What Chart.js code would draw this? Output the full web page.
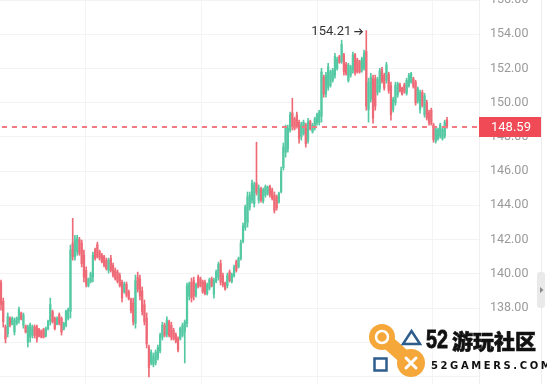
<!DOCTYPE html>
<html>
<head>
<meta charset="utf-8">
<script src="https://cdn.jsdelivr.net/npm/chart.js@4.4.1/dist/chart.umd.min.js"></script>
<style>
  html, body { margin: 0; padding: 0; background: #fff; }
  #wrap { width: 547px; height: 384px; position: relative; }
</style>
</head>
<body>
<div id="wrap"><canvas id="chart" width="547" height="384"></canvas></div>
<script>
// candle data
const openPrices = [
  139.5, 138.4, 136.9, 136.5, 137.4, 137.05, 136.6, 137.1, 137.3, 137.7,
  137.0, 136.95, 136.0, 136.3, 136.4, 136.9, 136.9, 136.75, 136.65, 136.75,
  136.35, 136.8, 137.2, 137.8, 137.4, 137.05, 137.6, 137.4, 136.75, 137.0,
  137.4, 137.8, 141.8, 141.0, 141.3, 142.0, 141.8, 141.1, 140.2, 139.3,
  139.55, 139.8, 141.4, 141.7, 141.3, 141.1, 141.0, 140.8,
  140.2, 140.9, 140.5, 140.2, 140.1, 139.9, 139.5, 138.95, 139.4,
  138.95, 138.5, 138.3, 137.1, 139.8, 139.7, 139.0, 138.2, 137.4, 135.7,
  134.8, 134.7, 134.8, 135.1, 135.5, 136.3, 137.0, 136.45, 137.2, 137.0,
  136.7, 136.45, 136.2, 136.2, 136.4, 136.6, 137.1, 138.7, 139.5, 139.6,
  138.75, 139.8, 139.7, 139.55, 139.5, 138.85, 139.15, 139.7, 138.8, 139.55,
  139.8, 140.6, 139.9, 139.45, 139.3, 140.1, 139.55, 139.9, 140.7, 140.4,
  140.9, 141.9, 142.7, 143.0, 143.9, 144.3, 144.1, 145.3, 144.3, 144.95,
  144.25, 144.6, 144.7, 145.1, 144.9, 144.6, 144.5, 144.2, 144.8, 146.2,
  147.1, 147.3, 148.4, 149.4, 149.05, 149.3, 148.85, 148.0, 148.2, 148.7,
  147.8, 148.9, 148.3, 148.5, 148.8, 148.85, 149.2, 151.5, 150.5, 150.9,
  151.0, 151.3, 151.6, 152.0, 152.7, 152.4, 152.8, 152.25, 151.3, 151.6,
  151.9, 152.8, 152.5, 152.4, 151.9, 152.0, 153.0, 149.6, 150.2, 151.4,
  151.4, 150.6, 150.8, 151.95, 151.6, 151.3, 151.65, 151.0, 149.6, 150.0,
  150.45, 151.05, 150.85, 151.05, 150.55, 151.0, 151.2, 151.4, 151.2, 150.1,
  149.6, 150.6, 149.3, 150.0, 149.45, 149.55, 148.7, 147.75, 147.9, 148.05,
  147.9, 148.05, 149.0
];
const highPrices = [
  139.63, 138.58, 137.01, 137.71, 137.48, 137.48, 137.42, 137.48, 138.06, 137.77,
  137.71, 137.01, 137.01, 137.12, 137.01, 137.01, 137.01, 136.82, 136.72, 136.82,
  136.89, 137.30, 138.58, 137.88, 137.48, 137.48, 137.71, 137.48, 137.17, 137.88,
  138.00, 141.68, 143.24, 142.25, 142.25, 142.13, 141.97, 141.38, 140.40, 139.75,
  140.10, 141.27, 141.50, 141.85, 141.38, 141.20, 141.08, 140.92,
  140.92, 141.08, 140.63, 140.34, 140.22, 140.04, 139.63, 139.52, 139.52,
  139.05, 138.58, 138.58, 139.93, 140.10, 139.93, 139.23, 138.47, 137.71, 135.84,
  135.55, 135.37, 135.55, 135.84, 136.54, 137.17, 137.12, 137.48, 137.30, 137.17,
  136.82, 136.54, 136.31, 136.89, 137.12, 137.30, 139.46, 139.52, 139.75, 139.81,
  139.46, 139.93, 139.81, 139.63, 139.63, 139.46, 139.75, 139.81, 139.75, 140.22,
  140.68, 140.80, 140.04, 139.52, 140.04, 140.22, 140.04, 140.51, 140.80, 140.98,
  141.97, 142.96, 144.02, 144.78, 144.78, 145.48, 145.36, 147.69, 145.19, 145.07,
  145.01, 145.19, 145.13, 145.19, 145.01, 144.78, 144.60, 144.78, 146.23, 147.64,
  148.69, 148.69, 149.45, 150.26, 149.15, 149.45, 148.98, 148.86, 148.98, 148.80,
  149.09, 148.98, 148.80, 149.15, 149.39, 149.56, 152.01, 151.61, 151.78, 152.30,
  151.90, 152.01, 152.89, 152.66, 152.77, 153.65, 152.89, 152.36, 152.30, 152.19,
  152.95, 152.89, 152.60, 152.48, 152.66, 153.07, 154.21, 151.43, 151.72, 151.61,
  151.61, 151.49, 152.01, 152.07, 151.72, 152.36, 151.78, 151.20, 150.32, 151.20,
  151.20, 151.14, 150.91, 151.14, 151.43, 151.72, 151.78, 151.49, 151.31, 150.91,
  150.73, 150.73, 150.55, 150.15, 149.56, 149.68, 148.80, 148.57, 148.51, 148.80,
  148.57, 148.98, 149.15
];
const lowPrices = [
  137.88, 136.89, 135.96, 136.31, 136.89, 137.01, 136.42, 137.01, 137.12, 137.30,
  136.82, 136.54, 135.72, 136.01, 136.25, 136.25, 136.01, 136.31, 136.25, 136.25,
  136.31, 136.72, 137.01, 137.12, 136.72, 137.01, 137.01, 136.42, 136.72, 136.89,
  137.30, 137.42, 140.80, 140.80, 141.08, 141.08, 140.40, 139.52, 139.23, 139.23,
  139.46, 139.52, 140.80, 140.92, 140.80, 140.63, 140.40, 140.22,
  140.04, 140.10, 139.81, 139.63, 139.46, 139.23, 138.35, 138.86, 138.64,
  138.47, 137.71, 137.01, 136.82, 138.93, 138.47, 137.59, 137.01, 135.67, 133.97,
  134.67, 134.56, 134.67, 134.97, 135.37, 136.13, 136.31, 136.31, 136.31, 136.13,
  136.13, 135.96, 135.43, 136.13, 136.31, 134.79, 136.89, 138.47, 138.35, 138.47,
  138.64, 139.17, 139.23, 138.86, 138.76, 138.76, 139.05, 139.23, 138.58, 139.46,
  139.63, 139.34, 139.23, 139.05, 139.17, 139.52, 139.46, 139.81, 140.10, 140.34,
  140.80, 141.80, 142.54, 142.73, 143.72, 144.13, 143.90, 144.60, 144.13, 144.19,
  144.13, 144.48, 144.60, 144.48, 144.31, 143.55, 143.72, 144.13, 144.72, 146.06,
  146.82, 147.11, 148.28, 148.40, 148.40, 148.51, 147.64, 147.81, 148.10, 147.40,
  147.64, 148.40, 148.22, 148.40, 148.69, 148.69, 148.86, 150.32, 150.32, 150.73,
  150.91, 151.20, 151.43, 151.90, 152.30, 152.30, 151.61, 151.61, 151.20, 151.49,
  151.72, 151.61, 151.72, 151.72, 151.78, 151.90, 149.56, 148.86, 150.03, 148.80,
  149.56, 150.44, 150.61, 151.14, 150.73, 151.14, 150.55, 148.98, 149.45, 149.85,
  150.32, 150.61, 150.44, 150.55, 150.44, 150.91, 151.14, 150.85, 149.85, 149.97,
  149.39, 149.74, 149.15, 148.98, 148.69, 148.69, 147.69, 147.64, 147.81, 147.93,
  147.81, 147.93, 148.51
];
const closePrices = [
  138.2, 137.2, 136.2, 137.5, 137.0, 137.4, 137.3, 137.4, 137.9, 137.35,
  137.6, 136.6, 136.9, 137.0, 136.9, 136.4, 136.2, 136.35, 136.3, 136.3,
  136.8, 137.2, 138.2, 137.2, 136.8, 137.4, 137.1, 136.6, 137.1, 137.8,
  137.9, 141.4, 141.0, 142.0, 142.1, 141.2, 140.6, 139.8, 139.4, 139.7,
  140.0, 141.1, 140.9, 141.0, 140.9, 140.7, 140.5, 140.3,
  140.8, 140.2, 139.9, 139.7, 139.55, 139.3, 138.6, 139.4, 138.75,
  138.55, 137.85, 137.2, 139.6, 139.1, 138.7, 137.8, 137.2, 135.9, 134.5,
  135.4, 135.2, 135.4, 135.7, 136.4, 137.0, 136.4, 137.3, 136.4, 136.3,
  136.2, 136.05, 135.55, 136.8, 137.0, 137.2, 139.3, 139.4, 138.6, 138.7,
  139.35, 139.25, 139.3, 138.95, 138.85, 139.35, 139.65, 139.3, 139.6, 140.1,
  140.55, 139.5, 139.35, 139.1, 139.9, 139.6, 139.95, 140.4, 140.2, 140.9,
  141.8, 142.8, 143.9, 144.5, 144.6, 145.3, 145.2, 144.75, 145.0, 144.3,
  144.9, 145.1, 145.05, 144.6, 144.4, 143.7, 143.85, 144.7, 146.0, 147.4,
  148.5, 148.5, 149.3, 148.6, 148.5, 148.6, 147.9, 148.7, 148.85, 147.6,
  148.9, 148.45, 148.7, 149.05, 149.3, 149.45, 151.8, 150.5, 151.6, 152.1,
  151.8, 151.9, 152.7, 152.55, 152.35, 153.4, 151.8, 151.7, 152.2, 152.1,
  152.8, 151.75, 151.8, 151.8, 152.55, 152.9, 149.8, 151.2, 151.5, 149.1,
  149.8, 151.35, 151.85, 151.25, 150.85, 152.2, 150.7, 149.3, 150.2, 151.0,
  151.1, 150.7, 150.5, 150.65, 151.3, 151.6, 151.7, 150.95, 150.0, 150.8,
  150.6, 149.85, 150.4, 149.1, 148.8, 148.8, 147.85, 148.45, 148.4, 148.7,
  148.45, 148.85, 148.59
];
const priceTicks = [134, 136, 138, 140, 142, 144, 146, 148, 150, 152, 154, 156];
const firstLabelled = 138;

const upColor = "#55c9a3";
const downColor = "#ef6a77";

const candleColor = (ctx) =>
  closePrices[ctx.dataIndex] >= openPrices[ctx.dataIndex] ? upColor : downColor;

const bodies = openPrices.map((o, i) => ({ x: i, y: [o, closePrices[i]] }));
const wicks = highPrices.map((h, i) => ({ x: i, y: [lowPrices[i], h] }));

const overlay = {
  id: "overlay",
  afterDatasetsDraw(chart) {
    const { ctx, chartArea, scales } = chart;
    const last = closePrices[closePrices.length - 1];
    const ly = Math.round(scales.y.getPixelForValue(last));
    // dashed last-price line, drawn as short filled dashes
    ctx.save();
    ctx.fillStyle = "#f17a83";
    for (let x = chartArea.left + 2; x < chartArea.right; x += 10) {
      ctx.fillRect(x, ly - 1, Math.min(5, chartArea.right - x), 2);
    }
    ctx.restore();
  },
  afterDraw(chart) {
    const { ctx, chartArea, scales } = chart;
    ctx.save();

    // right track + scroll handle
    ctx.strokeStyle = "#ededed";
    ctx.lineWidth = 1;
    ctx.beginPath();
    ctx.moveTo(541.5, 0);
    ctx.lineTo(541.5, 384);
    ctx.stroke();
    ctx.fillStyle = "#e9e9e9";
    ctx.beginPath();
    ctx.roundRect(537, 272, 8, 36, 3);
    ctx.fill();
    ctx.fillStyle = "#8a8a8a";
    ctx.beginPath();
    ctx.moveTo(540, 287);
    ctx.lineTo(543.5, 290);
    ctx.lineTo(540, 293);
    ctx.closePath();
    ctx.fill();

    // last price label
    const last = closePrices[closePrices.length - 1];
    const ly = scales.y.getPixelForValue(last);
    ctx.fillStyle = "#ef4a55";
    ctx.fillRect(chartArea.right, Math.round(ly) - 10, 62, 20);
    ctx.fillStyle = "#fff";
    ctx.font = "13px Roboto";
    ctx.textAlign = "left";
    ctx.textBaseline = "middle";
    ctx.fillText(last.toFixed(2), chartArea.right + 12, ly + 1);

    // highest high marker
    const hi = Math.max(...highPrices);
    const hiIdx = highPrices.indexOf(hi);
    const hx = scales.x.getPixelForValue(hiIdx);
    const hy = scales.y.getPixelForValue(hi) + 1;
    ctx.fillStyle = "#333";
    ctx.textAlign = "right";
    ctx.fillText(hi.toFixed(2), hx - 15, hy);
    ctx.strokeStyle = "#333";
    ctx.lineWidth = 1.2;
    ctx.beginPath();
    ctx.moveTo(hx - 12, hy);
    ctx.lineTo(hx - 4, hy);
    ctx.moveTo(hx - 7, hy - 3);
    ctx.lineTo(hx - 4, hy);
    ctx.lineTo(hx - 7, hy + 3);
    ctx.stroke();

    drawLogo(ctx);
    ctx.restore();
  },
};

function drawLogo(ctx) {
  const orange = "#f5a73a";
  const blue = "#2e5d8c";
  ctx.save();
  ctx.fillStyle = orange;
  ctx.strokeStyle = orange;
  ctx.beginPath();
  ctx.arc(382, 337, 13, 0, Math.PI * 2);
  ctx.fill();
  ctx.beginPath();
  ctx.arc(411, 363, 14, 0, Math.PI * 2);
  ctx.fill();
  ctx.lineWidth = 14;
  ctx.lineCap = "round";
  ctx.beginPath();
  ctx.moveTo(382, 337);
  ctx.lineTo(411, 363);
  ctx.stroke();

  ctx.strokeStyle = "#fff";
  ctx.lineWidth = 2.5;
  ctx.beginPath();
  ctx.arc(382, 337, 6, 0, Math.PI * 2);
  ctx.stroke();
  ctx.lineWidth = 3;
  ctx.beginPath();
  ctx.moveTo(406, 358);
  ctx.lineTo(416, 368);
  ctx.moveTo(416, 358);
  ctx.lineTo(406, 368);
  ctx.stroke();

  ctx.strokeStyle = blue;
  ctx.lineWidth = 2.5;
  ctx.lineCap = "butt";
  ctx.beginPath();
  ctx.moveTo(411.5, 331);
  ctx.lineTo(420, 344);
  ctx.lineTo(403, 344);
  ctx.closePath();
  ctx.stroke();
  ctx.strokeRect(374.5, 358.5, 12, 12);

  ctx.fillStyle = "#111";
  ctx.strokeStyle = "#111";
  ctx.lineWidth = 0.8;
  ctx.textAlign = "left";
  ctx.textBaseline = "alphabetic";
  ctx.save();
  ctx.translate(426, 348);
  ctx.scale(0.76, 1);
  ctx.font = 'bold 26px "Liberation Sans", sans-serif';
  ctx.fillText("52", 0, 0);
  ctx.strokeText("52", 0, 0);
  ctx.restore();
  ctx.textBaseline = "middle";
  ctx.font = '900 21px "Noto Sans CJK SC"';
  ctx.lineWidth = 0.6;
  ctx.fillText("游玩社区", 452, 341);
  ctx.strokeText("游玩社区", 452, 341);
  ctx.font = 'bold 10px "DejaVu Sans"';
  ctx.letterSpacing = "2.6px";
  ctx.fillText("52GAMERS.COM", 431, 366);
  ctx.restore();
}

new Chart(document.getElementById("chart"), {
  type: "bar",
  data: {
    datasets: [
      {
        data: bodies,
        backgroundColor: candleColor,
        barThickness: 1.6,
        grouped: false,
        borderWidth: 0,
        borderSkipped: false,
      },
      {
        data: wicks,
        backgroundColor: candleColor,
        barThickness: 1,
        grouped: false,
        borderWidth: 0,
        borderSkipped: false,
      },
    ],
  },
  options: {
    responsive: false,
    animation: false,
    layout: { padding: 0 },
    plugins: {
      legend: { display: false },
      tooltip: { enabled: false },
    },
    scales: {
      x: {
        type: "linear",
        min: -0.446,
        max: 213.29,
        offset: false,
        ticks: { display: false },
        grid: { color: "#f3f3f3", drawTicks: false },
        border: { display: false },
        afterBuildTicks: (s) => {
          s.ticks = [12.05, 63.36, 115.57, 166.89].map((v) => ({ value: v }));
        },
        afterFit: (s) => {
          s.height = 0;
          s.paddingLeft = 0;
          s.paddingRight = 0;
        },
      },
      y: {
        position: "right",
        min: 133.56,
        max: 156.0,
        grid: { color: "#f3f3f3", drawTicks: false },
        border: { color: "#efefef" },
        ticks: {
          color: "#9a9a9a",
          font: { family: "Roboto", size: 12.5 },
          padding: 11,
          autoSkip: false,
          callback: (v) => (v >= firstLabelled ? v.toFixed(2) : ""),
        },
        afterBuildTicks: (s) => {
          s.ticks = priceTicks.map((v) => ({ value: v }));
        },
        afterFit: (s) => {
          s.width = 68;
          s.paddingTop = 0;
          s.paddingBottom = 0;
        },
      },
    },
  },
  plugins: [overlay],
});
</script>
</body>
</html>
